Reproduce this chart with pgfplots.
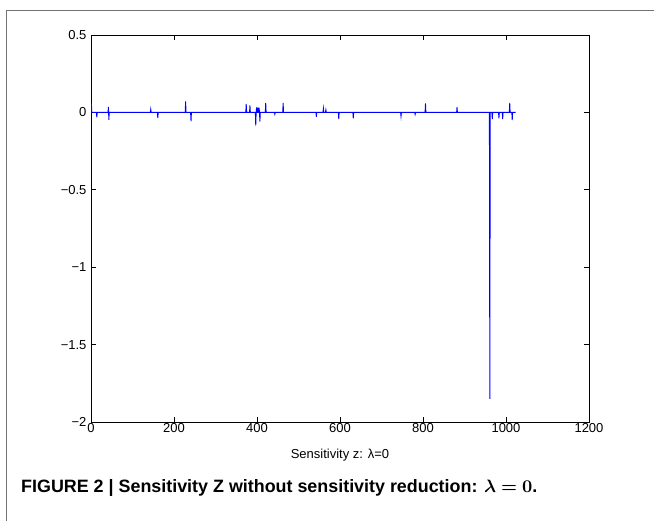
\documentclass[border=0pt]{standalone}
\usepackage{fontspec}
\setmainfont{Liberation Sans}
\usepackage{bm}
\usepackage{graphicx}
\usepackage{pgfplots}
\pgfplotsset{compat=1.18}
\begin{document}
\begin{tikzpicture}[x=1pt,y=1pt]
\useasboundingbox (0,0) rectangle (654,521);
\draw[black!55, line width=1pt] (6,0) -- (6,510) -- (654,510);
\begin{axis}[
  at={(91pt,99pt)}, anchor=south west,
  scale only axis, width=498pt, height=387pt,
  xmin=0, xmax=1200, ymin=-2, ymax=0.5,
  xtick={0,200,...,1200},
  ytick={-2,-1.5,-1,-0.5,0,0.5},
  yticklabels={−2,−1.5,−1,−0.5,0,0.5},
  tick align=inside, major tick length=5pt,
  tick style={black, line width=0.8pt},
  axis line style={line width=0.8pt},
  ticklabel style={font=\fontsize{13}{15}\selectfont},
  xticklabel style={inner sep=1pt},
  yticklabel style={xshift=-1pt},
  /pgf/number format/assume math mode=true,
  /pgf/number format/1000 sep={},
  xlabel={Sensitivity z: λ=0},
  xlabel style={font=\fontsize{13}{15}\selectfont, at={(axis description cs:0.5,0)}, anchor=center, yshift=-33pt},
]
\addplot[blue, line width=0.9pt] coordinates {
(0,0) (1,0.058) (2,0)
(13,0) (14,-0.032) (15,0)
(41,0) (42,0.035) (43,-0.048) (44,0)
(143,0) (144,0.02) (145,0)
(160,0) (161,-0.037) (162,0)
(227,0) (228,0.071) (229,0)
(240,0) (241,-0.058) (242,0)
(373,0) (374,0.055) (375,0)
(382,0) (383,0.045) (384,0)
(396,0) (397,-0.085) (398,0) (399,0.032) (400,0)
(401,0) (402,0.03) (403,0)
(404,0) (405,0.03) (406,0) (407,-0.06) (408,0)
(420,0) (421,0.062) (422,0)
(442,0) (443,-0.012) (444,0)
(462,0) (463,0.062) (464,0)
(542,0) (543,-0.028) (544,0)
(559,0) (560,0.026) (561,0)
(565,0) (566,0.017) (567,0)
(596,0) (597,-0.043) (598,0)
(631,0) (632,-0.039) (633,0)
(746,0) (747,-0.026) (748,0)
(780,0) (781,-0.013) (782,0)
(805,0) (806,0.058) (807,0)
(881,0) (882,0.034) (883,0)
(960,0) (961,-1.85) (962,0)
(966,0) (967,-0.043) (968,0)
(982,0) (983,-0.039) (984,0)
(991,0) (992,-0.043) (993,0)
(1008,0) (1009,0.062) (1010,0)
(1014,0) (1015,-0.05) (1016,0)
(1023,0)
};
\end{axis}
\node[anchor=base west, inner sep=0pt] at (21,28) {\resizebox{516pt}{!}{\bfseries FIGURE 2 | Sensitivity Z without sensitivity reduction: $\bm{\lambda=0}$.}};
\end{tikzpicture}
\end{document}
